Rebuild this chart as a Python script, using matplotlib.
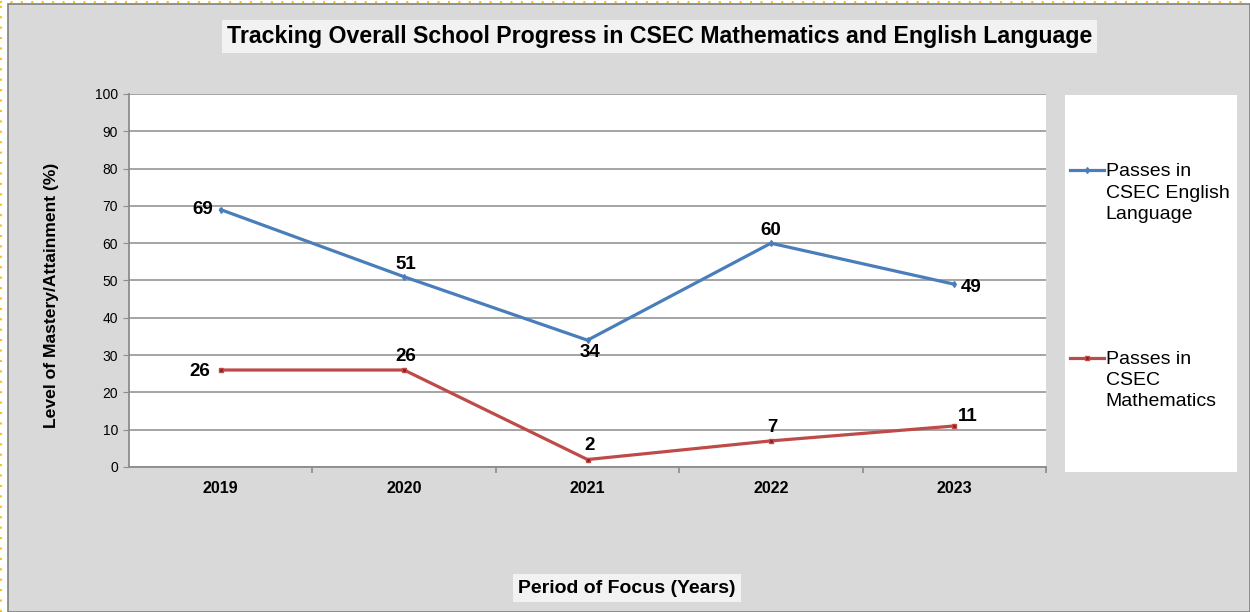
import matplotlib
matplotlib.use('Agg')
from matplotlib import pyplot as plt
from matplotlib.patches import Rectangle
from matplotlib.lines import Line2D

plt.rcParams['font.family'] = ['Liberation Sans', 'DejaVu Sans']

years = ['2019', '2020', '2021', '2022', '2023']
english = [69, 51, 34, 60, 49]
maths = [26, 26, 2, 7, 11]

# label offsets (points) for each data label, picked to match the reference placement
eng_off = [(-13, 0), (1.5, 9), (2, -9), (0, 9), (12, -2)]
math_off = [(-15, -1), (1.5, 9.5), (1.5, 10), (1, 10), (10, 7)]

blue = '#4a7ebb'
red = '#be4b48'
grey_bg = '#d9d9d9'

fig = plt.figure(figsize=(12.5, 6.12), dpi=100)
fig.patch.set_facecolor('white')

# grey chart area with a thin border, white page strip around it
fig.patches.append(Rectangle((8 / 1250, 0), 1 - 8 / 1250, 1 - 4 / 612, transform=fig.transFigure,
                             facecolor=grey_bg, edgecolor='#7f7f7f', linewidth=1.2, zorder=-2))
fig.lines.append(Line2D([1 / 1250, 1 / 1250], [0, 1], transform=fig.transFigure,
                        color='#f5c518', linestyle=(0, (1, 4)), linewidth=1.5, zorder=-1))
fig.lines.append(Line2D([0, 1], [1 - 1.5 / 612, 1 - 1.5 / 612], transform=fig.transFigure,
                        color='#f5c518', linestyle=(0, (1, 4)), linewidth=1.5, zorder=-1))

ax = fig.add_axes([129 / 1250, 1 - 467 / 612, 917 / 1250, 373 / 612])
ax.set_zorder(2)
ax.set_facecolor('white')

x = list(range(len(years)))
ax.plot(x, english, '-', color=blue, lw=2.3, marker='d', ms=3, label='Passes in\nCSEC English\nLanguage', zorder=3)
ax.plot(x, maths, '-', color=red, lw=2.3, marker='s', ms=3, mfc='#8b1a1a', mec=red,
        label='Passes in\nCSEC\nMathematics', zorder=3)

for i in x:
    ax.annotate(str(english[i]), (i, english[i]), xytext=eng_off[i], textcoords='offset points',
                ha='center', va='center', fontsize=13.5, fontweight='bold')
    ax.annotate(str(maths[i]), (i, maths[i]), xytext=math_off[i], textcoords='offset points',
                ha='center', va='center', fontsize=13.5, fontweight='bold')

ax.set_xlim(-0.5, len(years) - 0.5)
ax.set_ylim(0, 100)
ax.set_yticks(range(0, 101, 10))
ax.yaxis.grid(True, color='#8c8c8c', lw=1.1)
ax.set_axisbelow(True)
ax.tick_params(axis='y', labelsize=10, length=4, color='#8c8c8c', pad=4)

ax.set_xticks(x)
ax.set_xticklabels(years, fontweight='bold', fontsize=11.5)
ax.set_xticks([i + 0.5 for i in x], minor=True)
ax.tick_params(axis='x', which='major', length=0, pad=10)
ax.tick_params(axis='x', which='minor', length=4, width=1.2, color='#8c8c8c')

for s in ['top', 'right']:
    ax.spines[s].set_visible(False)
for s in ['left', 'bottom']:
    ax.spines[s].set_color('#8c8c8c')
    ax.spines[s].set_linewidth(1.3)

ax.set_ylabel('Level of Mastery/Attainment (%)', fontsize=12.6, fontweight='bold')
ax.yaxis.set_label_coords(-0.076, 0.461)
ax.set_xlabel('Period of Focus (Years)', fontsize=14, fontweight='bold',
              bbox=dict(facecolor='#f2f2f2', edgecolor='none', pad=4))
ax.xaxis.set_label_coords(0.543, -0.302)

ax.set_title('Tracking Overall School Progress in CSEC Mathematics and English Language',
             fontsize=16.7, fontweight='bold', x=0.579, y=1.115,
             bbox=dict(facecolor='#f2f2f2', edgecolor='none', pad=3.5))

# legend panel
fig.patches.append(Rectangle((1065 / 1250, 1 - 472 / 612), 172 / 1250, 377 / 612,
                             transform=fig.transFigure, facecolor='white', edgecolor='none', zorder=-1))
leg = fig.legend(loc='upper left', bbox_to_anchor=(1052 / 1250, 1 - 146 / 612), frameon=False,
                 fontsize=14, labelspacing=6.58, handlelength=1.75, handletextpad=0.12)
leg.set_zorder(5)
for t in leg.get_texts():
    t.set_linespacing(1.32)
# put each handle level with the first line of its label, like the original
for col in leg._legend_handle_box.get_children():
    for row in col.get_children():
        row.align = 'top'

plt.savefig('out.png', dpi=100, facecolor=fig.get_facecolor())
